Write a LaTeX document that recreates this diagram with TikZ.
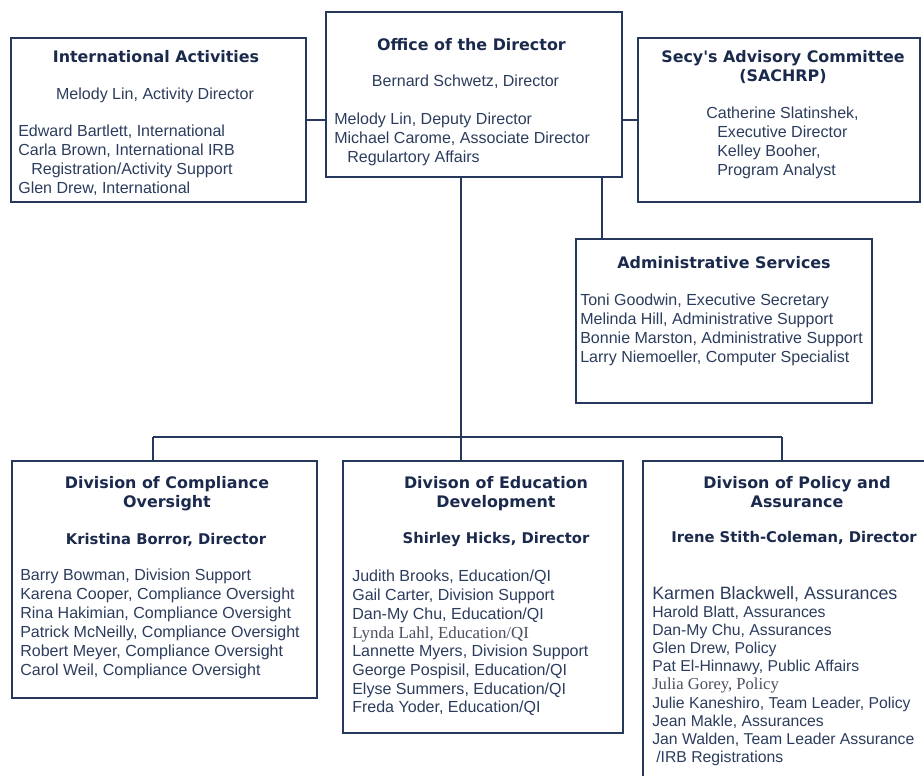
\documentclass[tikz,border=0pt]{standalone}
\usepackage{fontspec}
\setmainfont{Liberation Sans}
\newfontfamily\headfont{DejaVu Sans}
\newfontfamily\timesfont{Liberation Serif}
\definecolor{chartline}{HTML}{26385C}
\definecolor{headtext}{HTML}{1B2A4C}
\definecolor{bodytext}{HTML}{2C3C5C}
\definecolor{greytext}{HTML}{4A4E5E}

\begin{document}
\begin{tikzpicture}[x=0.025cm, y=-0.025cm,
    box/.style={rectangle, draw=chartline, line width=1.3pt, inner sep=0pt},
    head/.style={font=\headfont\bfseries\fontsize{11.3}{13.5}\selectfont, text=headtext, align=center, anchor=north, inner sep=0pt},
    boss/.style={font=\headfont\bfseries\fontsize{10.5}{12.5}\selectfont, text=headtext, anchor=north, inner sep=0pt},
    chief/.style={font=\fontsize{11.4}{13.3}\selectfont, text=bodytext, anchor=north, inner sep=0pt},
    staff/.style={font=\fontsize{11.4}{13.3}\selectfont, text=bodytext, align=left, anchor=north west, inner sep=0pt},
    link/.style={draw=chartline, line width=1.3pt}
]
    \useasboundingbox (0,0) rectangle (924,775);
    \clip (0,0) rectangle (924,775);

    % Boxes (top)
    \node[box, minimum width=7.375cm, minimum height=4.1cm] (intl) at (158.5,120) {};
    \node[box, minimum width=7.4cm, minimum height=4.125cm] (dir) at (474,94.5) {};
    \node[box, minimum width=7.05cm, minimum height=4.1cm] (sachrp) at (779,120) {};
    \node[box, minimum width=7.4cm, minimum height=4.1cm] (admin) at (724,321) {};

    % Boxes (divisions)
    \node[box, minimum width=7.625cm, minimum height=5.925cm] (comp) at (164.5,579.5) {};
    \node[box, minimum width=7cm, minimum height=6.8cm] (edu) at (483,597) {};
    \node[box, minimum width=7.425cm, minimum height=8.225cm] (pol) at (791.5,625.5) {};

    % International Activities
    \node[head] (intlT) at (156,50) {International Activities};
    \node[chief] (intlD) at (155,88) {Melody Lin, Activity Director};
    \node[staff] (intlL) at (18,125) {Edward Bartlett, International\\Carla Brown, International IRB\\\hspace*{0.325cm}Registration/Activity Support\\Glen Drew, International};

    % Office of the Director
    \node[head] (dirT) at (471.5,38) {Office of the Director};
    \node[chief] (dirD) at (465.5,75) {Bernard Schwetz, Director};
    \node[staff] (dirL) at (334,113) {Melody Lin, Deputy Director\\Michael Carome, Associate Director\\\hspace*{0.325cm}Regulartory Affairs};

    % SACHRP
    \node[head] (sacT) at (783,50) {Secy's Advisory Committee\\(SACHRP)};
    \node[staff] (sacL) at (706,107) {Catherine Slatinshek,\\\hspace*{0.275cm}Executive Director\\\hspace*{0.275cm}Kelley Booher,\\\hspace*{0.275cm}Program Analyst};

    % Administrative Services
    \node[head] (admT) at (724,256) {Administrative Services};
    \node[staff] (admL) at (580,294) {Toni Goodwin, Executive Secretary\\Melinda Hill, Administrative Support\\Bonnie Marston, Administrative Support\\Larry Niemoeller, Computer Specialist};

    % Division of Compliance Oversight
    \node[head] (compT) at (167,476) {Division of Compliance\\Oversight};
    \node[boss] (compD) at (166,533) {Kristina Borror, Director};
    \node[staff, font=\fontsize{11.4}{13.5}\selectfont] (compL) at (20,569) {Barry Bowman, Division Support\\Karena Cooper, Compliance Oversight\\Rina Hakimian, Compliance Oversight\\Patrick McNeilly, Compliance Oversight\\Robert Meyer, Compliance Oversight\\Carol Weil, Compliance Oversight};

    % Divison of Education Development
    \node[head] (eduT) at (496,476) {Divison of Education\\Development};
    \node[boss] (eduD) at (496,532) {Shirley Hicks, Director};
    \node[staff] (eduL) at (352,570) {Judith Brooks, Education/QI\\Gail Carter, Division Support\\Dan-My Chu, Education/QI\\{\timesfont\color{greytext}\fontsize{12}{13.3}\selectfont Lynda Lahl, Education/QI}\\Lannette Myers, Division Support\\George Pospisil, Education/QI\\Elyse Summers, Education/QI\\Freda Yoder, Education/QI};

    % Divison of Policy and Assurance
    \node[head] (polT) at (797,476) {Divison of Policy and\\Assurance};
    \node[boss] (polD) at (794,531) {Irene Stith-Coleman, Director};
    \node[staff, font=\fontsize{11.2}{12.9}\selectfont] (polL) at (652,586) {{\fontsize{12.7}{13}\selectfont Karmen Blackwell, Assurances}\\Harold Blatt, Assurances\\Dan-My Chu, Assurances\\Glen Drew, Policy\\Pat El-Hinnawy, Public Affairs\\{\timesfont\color{greytext}\fontsize{11.8}{12.9}\selectfont Julia Gorey, Policy}\\Julie Kaneshiro, Team Leader, Policy\\Jean Makle, Assurances\\Jan Walden, Team Leader Assurance\\\hspace*{0.1cm}/IRB Registrations};

    % Connectors
    \coordinate (busL) at (153,437);
    \coordinate (busM) at (461,437);
    \coordinate (busR) at (782,437);
    \coordinate (adminTap) at (602,239);

    \draw[link] (intl.east) -- (intl.east -| dir.west);
    \draw[link] (sachrp.west) -- (sachrp.west -| dir.east);
    \draw[link] (dir.south -| busM) -- (busM);
    \draw[link] (dir.south -| adminTap) -- (adminTap);
    \draw[link] (busL) -- (busR);
    \draw[link] (busL) -- (busL |- comp.north);
    \draw[link] (busM) -- (busM |- edu.north);
    \draw[link] (busR) -- (busR |- pol.north);
\end{tikzpicture}
\end{document}
